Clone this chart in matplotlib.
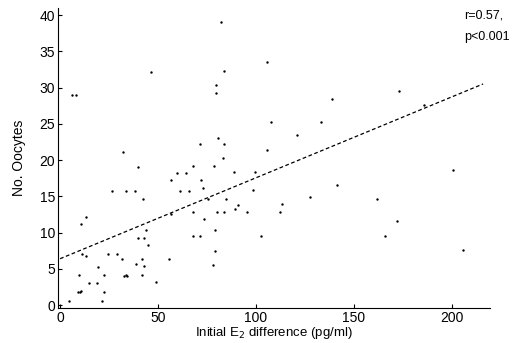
import matplotlib
matplotlib.use("Agg")
import matplotlib.pyplot as plt
import numpy as np

plt.rcParams['font.family'] = ['Liberation Sans', 'DejaVu Sans']

# initial E2 difference (pg/ml) and number of oocytes
e2_diff = [82, 105.6, 46.4, 83.7, 79.6, 79.6, 6, 8, 107.7, 80.6, 71.4, 83.7,
           105.6, 32, 173, 138.8, 185.7, 133, 121, 200.5,
           40, 26.5, 33.7, 38.3, 42.3, 13.3, 10.7, 43.9, 39.8, 42.9, 44.9,
           11.2, 13.3, 24.5, 29.1, 31.6, 41.8, 38.8, 42.9, 19.4, 9.7, 22.4,
           32.5, 33.5, 34, 41.8, 14.8, 18.9, 49, 9, 10, 10.5, 22.4, 4.6, 21.4,
           83.2, 67.9, 78.6, 59.7, 64.3, 88.8, 99.5, 56.6, 71.9, 73, 61.2,
           65.8, 98.5, 75.5, 84.7, 90.8, 89.3, 95.4, 67.9, 80.1, 83.7, 56.6,
           73.5, 79.1, 67.9, 71.4, 102.6, 79.1, 55.6, 78,
           141.3, 127.6, 113.3, 112.2, 161.7, 171.9, 165.8, 205.6]
oocytes = [39, 33.5, 32.2, 32.3, 30.4, 29.2, 29, 29, 25.3, 23.1, 22.2, 22.2,
           21.4, 21.1, 29.5, 28.4, 27.6, 25.3, 23.4, 18.7,
           19.1, 15.7, 15.7, 15.8, 14.7, 12.2, 11.2, 10.3, 9.3, 9.3, 8.3,
           7.1, 6.8, 7.1, 7.1, 6.3, 6.4, 5.7, 5.4, 5.3, 4.1, 4.1,
           4.0, 4.1, 4.0, 4.2, 3.0, 3.0, 3.2, 1.8, 1.8, 1.9, 1.8, 0.5, 0.6,
           20.3, 19.2, 19.2, 18.2, 18.2, 18.4, 18.4, 17.2, 17.3, 16.2, 15.7,
           15.8, 15.9, 14.7, 14.7, 13.8, 13.3, 12.9, 12.8, 12.8, 12.8, 12.6,
           11.9, 10.4, 9.5, 9.5, 9.5, 7.4, 6.4, 5.5,
           16.5, 14.9, 13.9, 12.9, 14.7, 11.6, 9.6, 7.6]

# regression line
fit_intercept = 6.4
fit_slope = 0.1116
fit_x = [0, 216]

fig = plt.figure(figsize=(5.19, 3.43), dpi=100)
ax = fig.add_axes([0.112, 0.102, 0.832, 0.875])

ax.scatter(e2_diff, oocytes, s=3, c='black', marker='o', linewidths=0)
fx = np.array(fit_x)
ax.plot(fx, fit_intercept + fit_slope * fx, color='black', lw=0.9,
        linestyle=(0, (3, 2)))

ax.set_xlim(-1, 219.5)
ax.set_ylim(-0.4, 41)
ax.set_xticks([0, 50, 100, 150, 200])
ax.set_yticks([0, 5, 10, 15, 20, 25, 30, 35, 40])
ax.spines['top'].set_visible(False)
ax.spines['right'].set_visible(False)
ax.tick_params(direction='in', length=3, labelsize=10, pad=2)

ax.set_xlabel('Initial E$_2$ difference (pg/ml)', fontsize=9.5, labelpad=0)
ax.set_ylabel('No. Oocytes', fontsize=10, labelpad=10)

fig.text(0.895, 0.955, 'r=0.57,', fontsize=9, ha='left', va='center')
fig.text(0.895, 0.893, 'p<0.001', fontsize=9, ha='left', va='center')

fig.savefig('out.png', dpi=100)
